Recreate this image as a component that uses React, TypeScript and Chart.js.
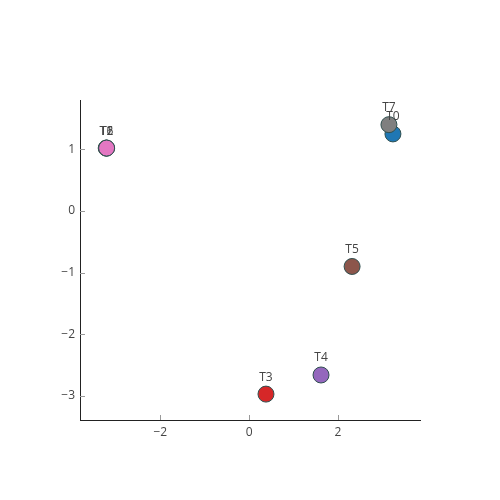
import React, { useEffect, useRef } from "react";
import { Chart, registerables } from "chart.js";

Chart.register(...registerables);

const names = ["T0", "T1", "T2", "T3", "T4", "T5", "T6", "T7"];
const xValues = [3.24, -3.22, -3.21, 0.38, 1.62, 2.32, -3.21, 3.15];
const yValues = [1.25, 1.02, 1.02, -2.97, -2.66, -0.9, 1.02, 1.4];
const colors = ["#1f77b4", "#ff7f0e", "#2ca02c", "#d62728", "#9467bd", "#8c564b", "#e377c2", "#7f7f7f"];
const xTicks = [-2, 0, 2];
const yTicks = [-3, -2, -1, 0, 1];

const labelPlugin = {
  id: "pointLabels",
  afterDatasetsDraw(chart: any) {
    const ctx = chart.ctx;
    const meta = chart.getDatasetMeta(0);
    ctx.save();
    ctx.font = '12px "Open Sans", sans-serif';
    ctx.fillStyle = "#444";
    ctx.textAlign = "center";
    ctx.textBaseline = "middle";
    meta.data.forEach((el: any, i: number) => {
      ctx.fillText(names[i], el.x, el.y - 17);
    });
    ctx.restore();
  },
};

const insideTicksPlugin = {
  id: "insideTicks",
  afterDraw(chart: any) {
    const ctx = chart.ctx;
    const area = chart.chartArea;
    const xs = chart.scales.x;
    const ys = chart.scales.y;
    ctx.save();
    ctx.strokeStyle = "#999";
    ctx.lineWidth = 1;
    ctx.beginPath();
    xTicks.forEach((v) => {
      const px = Math.round(xs.getPixelForValue(v)) + 0.5;
      ctx.moveTo(px, area.bottom);
      ctx.lineTo(px, area.bottom - 5);
    });
    yTicks.forEach((v) => {
      const py = Math.round(ys.getPixelForValue(v)) + 0.5;
      ctx.moveTo(area.left, py);
      ctx.lineTo(area.left + 5, py);
    });
    ctx.stroke();
    ctx.restore();
  },
};

export default function App() {
  const ref = useRef<HTMLCanvasElement>(null);
  useEffect(() => {
    const chart = new Chart(ref.current!, {
      type: "scatter",
      data: {
        datasets: [
          {
            data: xValues.map((x, i) => ({ x, y: yValues[i] })),
            backgroundColor: colors,
            borderColor: "#2f4f4f",
            borderWidth: 1,
            pointRadius: 8,
            pointHoverRadius: 8,
          },
        ],
      },
      options: {
        responsive: false,
        animation: false,
        events: [],
        layout: { padding: { top: 100, right: 80, left: 0, bottom: 0 } },
        plugins: { legend: { display: false }, tooltip: { enabled: false } },
        scales: {
          x: {
            type: "linear",
            min: -3.81,
            max: 3.85,
            afterBuildTicks: (axis: any) => {
              axis.ticks = xTicks.map((v) => ({ value: v }));
            },
            afterFit: (axis: any) => {
              axis.height = 80;
            },
            ticks: {
              color: "#444",
              font: { family: '"Open Sans", sans-serif', size: 12 },
              padding: 5,
              callback: (v: any) => String(v).replace("-", "\u2212"),
            },
            grid: { display: false, drawOnChartArea: false, drawTicks: false },
            border: { display: true, color: "#222", width: 1 },
          },
          y: {
            type: "linear",
            min: -3.39,
            max: 1.8,
            afterBuildTicks: (axis: any) => {
              axis.ticks = yTicks.map((v) => ({ value: v }));
            },
            afterFit: (axis: any) => {
              axis.width = 80;
            },
            ticks: {
              color: "#444",
              font: { family: '"Open Sans", sans-serif', size: 12 },
              padding: 5,
              callback: (v: any) => String(v).replace("-", "\u2212"),
            },
            grid: { display: false, drawOnChartArea: false, drawTicks: false },
            border: { display: true, color: "#222", width: 1 },
          },
        },
      },
      plugins: [labelPlugin, insideTicksPlugin],
    });
    return () => chart.destroy();
  }, []);
  return (
    <div style={{ position: "fixed", left: 0, top: 0, width: 500, height: 500, background: "#fff" }}>
      <canvas ref={ref} width={500} height={500} />
    </div>
  );
}
